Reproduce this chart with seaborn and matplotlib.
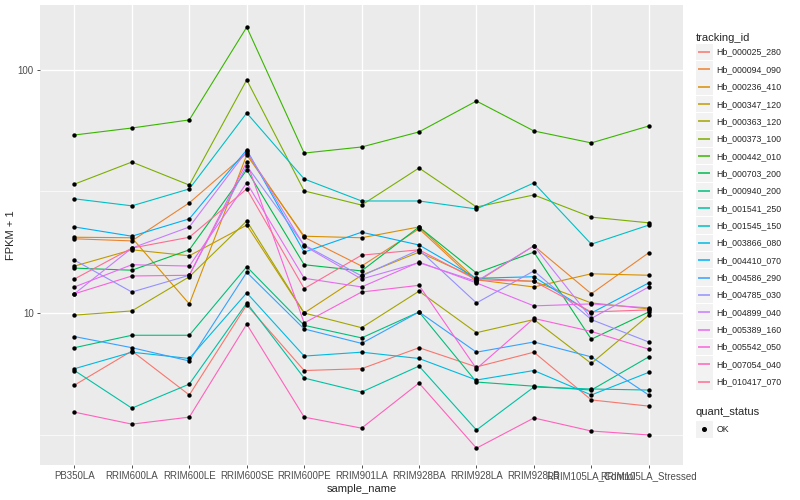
import pandas as pd
import seaborn as sns
import matplotlib.pyplot as plt
from matplotlib.lines import Line2D
from matplotlib.patches import Rectangle
from matplotlib.legend_handler import HandlerBase
from matplotlib.ticker import FixedLocator, NullFormatter

samples = ['PB350LA', 'RRIM600LA', 'RRIM600LE', 'RRIM600SE', 'RRIM600PE', 'RRIM901LA',
           'RRIM928BA', 'RRIM928LA', 'RRIM928LB', 'RRIM105LA_Control', 'RRIM105LA_Stressed']

# FPKM + 1 per tracking id, one value per sample
hb_000025_280 = [5.05, 6.98, 4.6, 10.8, 5.8, 5.9, 7.2, 6.0, 6.9, 4.39, 4.14]
hb_000094_090 = [20.2, 19.8, 28.4, 45.5, 20.5, 15.6, 22.2, 13.4, 18.9, 12.0, 17.7]
hb_000236_410 = [20.5, 20.4, 10.9, 44.7, 20.7, 20.4, 22.6, 13.7, 12.8, 14.5, 14.3]
hb_000347_120 = [15.6, 18.2, 17.2, 23.0, 10.0, 14.3, 17.8, 13.9, 13.5, 11.0, 10.4]
hb_000363_120 = [9.8, 10.2, 14.1, 23.9, 10.0, 8.7, 12.3, 8.3, 9.4, 6.2, 9.8]
hb_000373_100 = [33.9, 41.8, 33.6, 91.0, 31.8, 27.8, 39.5, 27.3, 30.6, 24.8, 23.5]
hb_000442_010 = [54.0, 57.7, 62.3, 150.0, 45.5, 48.2, 55.6, 74.5, 56.1, 50.1, 58.8]
hb_000703_200 = [15.3, 15.0, 18.2, 38.8, 15.8, 14.9, 22.6, 14.6, 17.8, 7.8, 10.1]
hb_000940_200 = [7.2, 8.1, 8.1, 15.5, 8.9, 7.9, 10.1, 5.2, 5.0, 4.82, 6.6]
hb_001541_250 = [5.8, 4.06, 5.1, 11.0, 5.4, 4.73, 6.05, 3.3, 4.96, 4.87, 4.82]
hb_001545_150 = [29.5, 27.6, 32.4, 66.5, 35.6, 28.9, 28.9, 26.8, 34.3, 19.2, 23.0]
hb_003866_080 = [5.9, 6.9, 6.5, 12.1, 6.65, 6.9, 6.5, 5.3, 5.8, 4.6, 5.7]
hb_004410_070 = [22.6, 20.7, 24.4, 46.9, 17.8, 21.5, 19.05, 13.9, 14.1, 10.0, 13.3]
hb_004586_290 = [8.0, 7.2, 6.35, 14.7, 8.6, 7.5, 10.1, 6.9, 7.6, 6.6, 4.6]
hb_004785_030 = [16.5, 12.2, 14.3, 40.3, 19.05, 14.2, 18.2, 11.0, 14.9, 9.4, 7.6]
hb_004899_040 = [12.0, 18.5, 22.6, 46.4, 18.9, 13.8, 16.1, 13.5, 18.9, 9.5, 12.8]
hb_005389_160 = [12.8, 15.8, 15.6, 34.3, 13.9, 12.8, 16.2, 13.3, 10.7, 10.9, 10.5]
hb_005542_050 = [12.0, 14.2, 14.3, 41.8, 9.1, 12.2, 13.0, 5.9, 9.5, 8.4, 7.1]
hb_007054_040 = [3.91, 3.49, 3.73, 9.0, 3.73, 3.36, 5.15, 2.78, 3.70, 3.27, 3.15]
hb_010417_070 = [13.8, 18.5, 20.5, 32.4, 12.6, 17.3, 18.2, 13.7, 13.5, 10.1, 10.3]

tracking_ids = ['Hb_000025_280', 'Hb_000094_090', 'Hb_000236_410', 'Hb_000347_120',
                'Hb_000363_120', 'Hb_000373_100', 'Hb_000442_010', 'Hb_000703_200',
                'Hb_000940_200', 'Hb_001541_250', 'Hb_001545_150', 'Hb_003866_080',
                'Hb_004410_070', 'Hb_004586_290', 'Hb_004785_030', 'Hb_004899_040',
                'Hb_005389_160', 'Hb_005542_050', 'Hb_007054_040', 'Hb_010417_070']
series = [hb_000025_280, hb_000094_090, hb_000236_410, hb_000347_120, hb_000363_120,
          hb_000373_100, hb_000442_010, hb_000703_200, hb_000940_200, hb_001541_250,
          hb_001545_150, hb_003866_080, hb_004410_070, hb_004586_290, hb_004785_030,
          hb_004899_040, hb_005389_160, hb_005542_050, hb_007054_040, hb_010417_070]

# ggplot2 default hue palette for 20 levels
colors = ['#F8766D', '#EA8331', '#D89000', '#C09B00', '#A3A500', '#7CAE00', '#39B600',
          '#00BB4E', '#00BF7D', '#00C1A3', '#00BFC4', '#00BAE0', '#00B0F6', '#35A2FF',
          '#9590FF', '#C77CFF', '#E76BF3', '#FA62DB', '#FF62BC', '#FF6C91']

KEY_BG = '#F2F2F2'


class KeyHandler(HandlerBase):
    # ggplot-like legend key: grey square with the line (or point) on top
    def create_artists(self, legend, orig_handle, xdescent, ydescent, width, height,
                       fontsize, trans):
        rect = Rectangle((-xdescent, -ydescent), width, height, facecolor=KEY_BG,
                         edgecolor='none', transform=trans)
        ymid = -ydescent + height / 2
        if orig_handle.get_marker() not in (None, 'None', ''):
            mark = Line2D([-xdescent + width / 2], [ymid], marker='o', markersize=2.6,
                          color=orig_handle.get_color(), linestyle='none', transform=trans)
        else:
            mark = Line2D([-xdescent + 1.5, -xdescent + width - 1.5], [ymid, ymid],
                          color=orig_handle.get_color(), lw=1.1, snap=True,
                          solid_capstyle='butt', transform=trans)
        return [rect, mark]


def get_dataframe():
    rows = []
    for tid, vals in zip(tracking_ids, series):
        for i, v in enumerate(vals):
            rows.append({'tracking_id': tid, 'sample_name': samples[i], 'pos': i,
                         'fpkm': v, 'quant_status': 'OK'})
    return pd.DataFrame(rows)


if __name__ == "__main__":
    df = get_dataframe()

    sns.set_theme(style="darkgrid", rc={
        "axes.facecolor": "#EBEBEB", "grid.color": "white",
        "axes.edgecolor": "#EBEBEB",
    })
    plt.rcParams['font.family'] = ['Liberation Sans', 'DejaVu Sans']

    fig = plt.figure(figsize=(8, 5), dpi=100)
    ax = fig.add_axes([0.05, 0.07, 0.804, 0.92])

    sns.lineplot(data=df, x='pos', y='fpkm', hue='tracking_id', palette=colors,
                 hue_order=tracking_ids, linewidth=0.8, legend=False, ax=ax, zorder=2)
    sns.scatterplot(data=df, x='pos', y='fpkm', color='black', s=10, linewidth=0,
                    legend=False, ax=ax, zorder=3)

    ax.set_yscale('log')
    ax.set_ylim(2.37, 185)
    ax.set_xlim(-0.6, len(samples) - 0.4)
    ax.yaxis.set_major_locator(FixedLocator([10, 100]))
    ax.yaxis.set_minor_locator(FixedLocator([3.162, 31.62]))
    ax.yaxis.set_minor_formatter(NullFormatter())
    ax.set_yticklabels(['10', '100'])
    ax.set_xticks(range(len(samples)))
    ax.set_xticklabels(samples)
    ax.grid(which='major', color='white', linewidth=1.0)
    ax.grid(which='minor', axis='y', color='white', linewidth=0.5)
    ax.tick_params(axis='both', which='major', length=2.5, width=0.6, color='#333333',
                   labelsize=7, labelcolor='#4D4D4D', pad=2, left=True, bottom=True)
    ax.tick_params(axis='y', which='minor', length=0)
    ax.set_xlabel('sample_name', fontsize=8, labelpad=2)
    ax.set_ylabel('FPKM + 1', fontsize=8, labelpad=1)
    for s in ax.spines.values():
        s.set_visible(False)

    handles = [Line2D([], [], color=c) for c in colors]
    fig.legend(handles, tracking_ids, title='tracking_id', loc='upper left',
               bbox_to_anchor=(0.864, 0.943), frameon=False, fontsize=6.3,
               title_fontsize=8, handlelength=1.94, handleheight=2.52,
               labelspacing=0.1, handletextpad=0.47, borderpad=0,
               handler_map={Line2D: KeyHandler()}, alignment='left')
    ok_handle = Line2D([], [], color='black', marker='o', linestyle='none')
    fig.legend([ok_handle], ['OK'], title='quant_status', loc='upper left',
               bbox_to_anchor=(0.864, 0.195), frameon=False, fontsize=6.3,
               title_fontsize=8, handlelength=1.94, handleheight=2.52,
               handletextpad=0.47, borderpad=0,
               handler_map={Line2D: KeyHandler()}, alignment='left')

    fig.savefig('out.png', dpi=100)
